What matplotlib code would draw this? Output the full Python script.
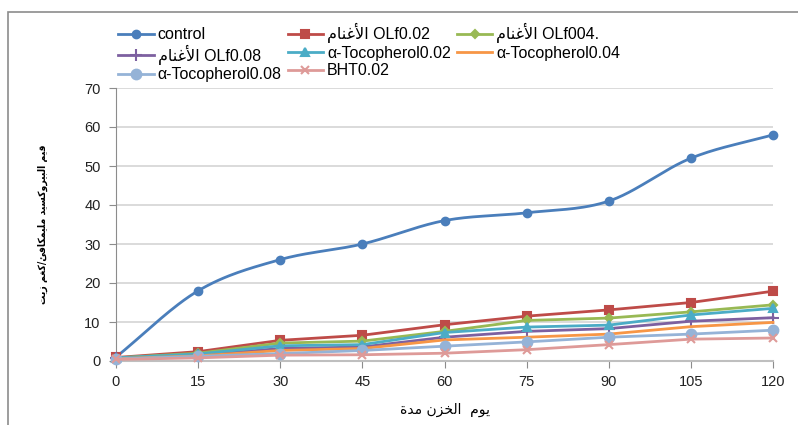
import numpy as np
import matplotlib
matplotlib.use("Agg")
import matplotlib.pyplot as plt
from matplotlib.patches import Rectangle

plt.rcParams['font.family'] = ['Liberation Sans', 'DejaVu Sans']

# storage days
days = [0, 15, 30, 45, 60, 75, 90, 105, 120]

# peroxide values per treatment
control = [1.0, 18.0, 26.0, 30.0, 36.0, 38.0, 41.0, 52.0, 58.0]
olf_002 = [0.9, 2.4, 5.3, 6.6, 9.3, 11.5, 13.1, 15.0, 17.9]
olf_004 = [0.8, 2.0, 4.6, 5.1, 7.6, 10.4, 11.0, 12.6, 14.4]
olf_008 = [0.7, 1.5, 3.2, 3.6, 6.1, 7.6, 8.3, 10.2, 11.1]
toc_002 = [0.8, 1.8, 3.9, 4.2, 7.3, 8.7, 9.2, 11.8, 13.5]
toc_004 = [0.6, 1.3, 2.7, 3.2, 5.4, 6.1, 6.9, 8.8, 9.9]
toc_008 = [0.5, 1.2, 1.9, 2.7, 3.8, 4.9, 6.1, 6.9, 7.9]
bht_002 = [0.4, 0.8, 1.5, 1.6, 2.0, 2.9, 4.2, 5.6, 5.9]

# Arabic words written in visual order with presentation forms
sheep = "\uFEE1\uFE8E\uFEE8\uFECF\uFEF7\uFE8D"
xlab = "\uFE93\uFEAA\uFEE3" + " " + "\uFEE5\uFEB0\uFEA8\uFEDF\uFE8D" + "  " + "\uFEE1\uFEEE\uFEF3"
ylab = ("\uFE96\uFEF3\uFEAF" + " " + "\uFEE2\uFED0\uFEDB" + "/"
        + "\uFE8A\uFED3\uFE8E\uFEDC\uFEE4\uFEF4\uFEE0\uFEE3" + " "
        + "\uFEAA\uFEF4\uFEB4\uFEDB\uFEED\uFEAE\uFEF4\uFE92\uFEDF\uFE8D" + " "
        + "\uFEE2\uFEF4\uFED7")

labels = ["control",
          sheep + " OLf0.02",
          sheep + " OLf004.",
          sheep + " OLf0.08",
          "\u03b1-Tocopherol0.02",
          "\u03b1-Tocopherol0.04",
          "\u03b1-Tocopherol0.08",
          "BHT0.02"]


def smooth(x, y, n=30):
    # Catmull-Rom curve through the points
    x = np.asarray(x, float)
    y = np.asarray(y, float)
    px = np.concatenate([[2 * x[0] - x[1]], x, [2 * x[-1] - x[-2]]])
    py = np.concatenate([[2 * y[0] - y[1]], y, [2 * y[-1] - y[-2]]])
    xs, ys = [], []
    t = np.linspace(0, 1, n)
    for i in range(1, len(px) - 2):
        for p, out in ((px, xs), (py, ys)):
            p0, p1, p2, p3 = p[i - 1], p[i], p[i + 1], p[i + 2]
            out.extend(0.5 * (2 * p1 + (-p0 + p2) * t
                              + (2 * p0 - 5 * p1 + 4 * p2 - p3) * t ** 2
                              + (-p0 + 3 * p1 - 3 * p2 + p3) * t ** 3))
    return xs, ys


fig = plt.figure(figsize=(7.98, 4.25), dpi=100)
ax = fig.add_axes([116 / 798, 1 - 361 / 425, (773 - 116) / 798, (361 - 88) / 425])

fig.add_artist(Rectangle((8 / 798, -0.1), 1.2, 1 - 12 / 425 + 0.1,
                         transform=fig.transFigure, fill=False,
                         ec='#8c8c8c', lw=1.2))

series = [
    (control, '#4A7EBB', 'o', 6),
    (olf_002, '#BE4B48', 's', 6),
    (olf_004, '#98B954', 'D', 4),
    (olf_008, '#7D60A0', '+', 8),
    (toc_002, '#4BACC6', '^', 6),
    (toc_004, '#F79646', None, 0),
    (toc_008, '#95B3D7', 'o', 7),
    (bht_002, '#DE9A98', 'x', 6),
]

handles = []
for i, (vals, col, mk, ms) in enumerate(series):
    if i == 0:
        sx, sy = smooth(days, vals)
        ax.plot(sx, sy, color=col, lw=2, clip_on=False, zorder=3)
        ax.plot(days, vals, ls='none', marker=mk, ms=ms, color=col,
                clip_on=False, zorder=3)
        h, = ax.plot([], [], color=col, lw=2, marker=mk, ms=ms)
    else:
        h, = ax.plot(days, vals, color=col, lw=2, marker=mk, ms=ms, mew=1.5,
                     clip_on=False, zorder=3)
    handles.append(h)

ax.set_xlim(0, 120)
ax.set_ylim(0, 70)
ax.set_xticks(days)
ax.set_yticks(range(0, 71, 10))
ax.grid(axis='y', color='#d4d4d4', lw=1.2)
ax.set_axisbelow(True)
for s in ['top', 'right']:
    ax.spines[s].set_visible(False)
ax.spines['left'].set_color('#8c8c8c')
ax.spines['bottom'].set_color('#bfbfbf')
ax.spines['bottom'].set_linewidth(1.5)
ax.tick_params(axis='both', colors='#8c8c8c', labelcolor='#222222',
               labelsize=10.5, length=5)
ax.tick_params(axis='y', pad=6)
ax.tick_params(axis='x', pad=5)

ax.set_xlabel(xlab, fontsize=10, labelpad=10, family='DejaVu Sans')
ax.set_ylabel(ylab, fontsize=7.5, fontweight='bold', labelpad=26,
              family='DejaVu Sans', fontstretch='condensed')

# legend is filled row by row: control, OLf ... then Tocopherol, BHT
order = [0, 3, 6, 1, 4, 7, 2, 5]
fig.legend([handles[k] for k in order], [labels[k] for k in order],
           loc='upper left', bbox_to_anchor=(112 / 798, 1 - 17 / 425),
           ncol=3, frameon=False, fontsize=11.5, handlelength=2.2,
           handletextpad=0.25, columnspacing=0.4, labelspacing=0.15,
           borderaxespad=0)

fig.savefig('out.png', dpi=100)
